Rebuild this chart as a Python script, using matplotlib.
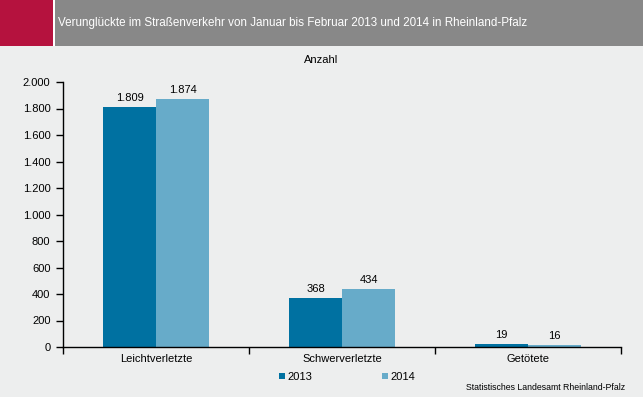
import matplotlib
matplotlib.use("Agg")
import matplotlib.pyplot as plt
from matplotlib.patches import Rectangle
import numpy as np

categories = ["Leichtverletzte", "Schwerverletzte", "Getötete"]
series_names = ["2013", "2014"]
values_2013 = [1809, 368, 19]
values_2014 = [1874, 434, 16]
yticks = [0, 200, 400, 600, 800, 1000, 1200, 1400, 1600, 1800, 2000]

def fmt(v):
    return f"{v:,}".replace(",", ".")

plt.rcParams['font.family'] = ['Liberation Sans', 'DejaVu Sans']

W, H = 643, 397
fig = plt.figure(figsize=(W/100, H/100), dpi=100)
bg = "#EDEEEE"
fig.patch.set_facecolor(bg)

# header
fig.patches.append(Rectangle((0, 1-46/H), 53/W, 46/H, transform=fig.transFigure,
                             facecolor="#B5123E", edgecolor="none", zorder=0))
fig.patches.append(Rectangle((53/W, 1-46/H), 2/W, 46/H, transform=fig.transFigure,
                             facecolor="white", edgecolor="none", zorder=0))
fig.patches.append(Rectangle((55/W, 1-46/H), 1-55/W, 46/H, transform=fig.transFigure,
                             facecolor="#888888", edgecolor="none", zorder=0))
fig.text(58/W, 1-23/H, "Verunglückte im Straßenverkehr von Januar bis Februar 2013 und 2014 in Rheinland-Pfalz",
         color="white", fontsize=8.4, va="center", ha="left")

left, right = 63/W, 621/W
bottom, top = 1-347/H, 1-82/H
ax = fig.add_axes([left, bottom, right-left, top-bottom])
ax.set_facecolor(bg)

c13 = "#0071A1"
c14 = "#67ABC9"
fs = 8
x = np.arange(len(categories))
bw = 53/186
b1 = ax.bar(x - bw/2, values_2013, bw, color=c13, label=series_names[0], zorder=2)
b2 = ax.bar(x + bw/2, values_2014, bw, color=c14, label=series_names[1], zorder=2)
for bars, vals in ((b1, values_2013), (b2, values_2014)):
    for r, v in zip(bars, vals):
        ax.annotate(fmt(v), (r.get_x() + r.get_width()/2, v), xytext=(0, 3),
                    textcoords="offset points", ha="center", va="bottom", fontsize=fs)

ax.set_xlim(-0.5, 2.5)
ax.set_ylim(0, 2000)
ax.set_yticks(yticks)
ax.set_yticklabels([fmt(v) for v in yticks], fontsize=fs)
ax.set_xticks([-0.5, 0.5, 1.5, 2.5])
ax.set_xticklabels([])
ax.set_xticks(x, minor=True)
ax.set_xticklabels(categories, minor=True, fontsize=fs)
ax.tick_params(axis="x", which="minor", length=0, pad=5)
ax.tick_params(axis="x", which="major", length=5, width=1, direction="out")
ax.tick_params(axis="y", length=5, width=1, direction="out", pad=4)
for s in ("top", "right"):
    ax.spines[s].set_visible(False)
for s in ("left", "bottom"):
    ax.spines[s].set_linewidth(1)

fig.text(321/W, 1-60/H, "Anzahl", ha="center", va="center", fontsize=fs)

leg = fig.legend(handles=[b1, b2], labels=series_names, loc="center",
                 bbox_to_anchor=(347/W, 1-377/H), ncol=2, frameon=False,
                 fontsize=fs, handlelength=0.55, handleheight=0.55, handletextpad=0.25,
                 columnspacing=6.2)

fig.text(625/W, 1-388/H, "Statistisches Landesamt Rheinland-Pfalz", ha="right", va="center",
         fontsize=6.3)

fig.savefig("out.png", dpi=100, facecolor=bg)
